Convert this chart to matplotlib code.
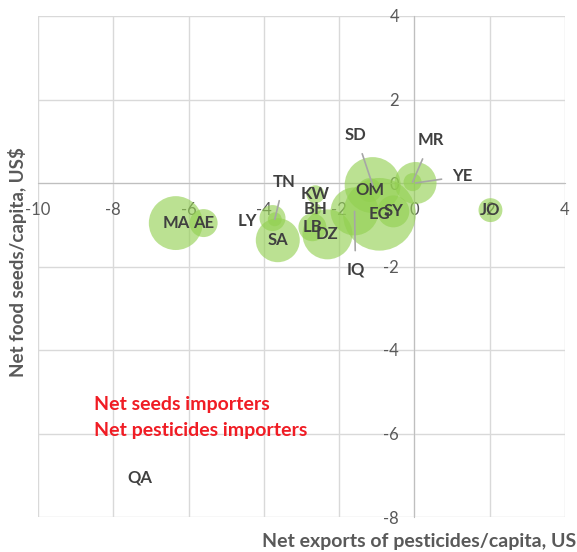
import numpy as np
import matplotlib
matplotlib.use("Agg")
import matplotlib.pyplot as plt

plt.rcParams['font.family'] = ['Lato', 'DejaVu Sans']
plt.rcParams['axes.unicode_minus'] = False

countries = ["MA", "AE", "LY", "TN", "SA", "KW", "BH", "LB", "DZ", "IQ",
             "OM", "SD", "EG", "SY", "MR", "YE", "JO", "QA"]
pest_exports = [-6.34, -5.60, -3.77, -3.71, -3.63, -2.63, -2.63, -2.71, -2.31, -1.59,
                -1.19, -1.11, -0.93, -0.56, -0.05, 0.03, 2.02, -7.29]
seed_exports = [-0.96, -0.96, -0.84, -0.87, -1.37, -0.27, -0.63, -1.06, -1.23, -0.68,
                -0.17, -0.05, -0.75, -0.68, 0.02, 0.00, -0.65, -7.05]
bubble_size = [33.0, 8.9, 7.7, 2.2, 22.0, 3.7, 1.6, 8.9, 28.4, 26.2,
               6.5, 35.6, 60.0, 11.6, 3.7, 20.0, 6.5, 0.02]

x_ticks = [-10, -8, -6, -4, -2, 0, 2, 4]
y_ticks = [-8, -6, -4, -2, 0, 2, 4]

# labels moved off their bubble (offset in points), leader line where far
label_offset = {"SD": (-12, 36), "MR": (13, 30), "YE": (34, 5),
                "TN": (6.5, 27), "IQ": (0.7, -42), "LY": (-18, -2)}
leader = ["SD", "MR", "YE", "TN", "IQ"]

fig = plt.figure(figsize=(5.77, 5.52), dpi=100)
ax = fig.add_axes([38/577, 35/552, 527/577, 501/552])

ax.scatter(pest_exports, seed_exports, s=np.array(bubble_size)*45.6,
           color='#92D050', alpha=0.62, edgecolors='none', zorder=3)

for c, x, y in zip(countries, pest_exports, seed_exports):
    dx, dy = label_offset.get(c, (0, 0))
    arrow = None
    if c in leader:
        arrow = dict(arrowstyle='-', color='#a6a6a6', lw=1.2, shrinkA=6, shrinkB=0)
    ax.annotate(c, (x, y), xytext=(dx, dy), textcoords='offset points',
                ha='center', va='center', fontsize=12, fontweight='bold',
                color='#404040', arrowprops=arrow, zorder=5)

ax.text(-8.51, -5.30, "Net seeds importers", color='#f01c24', fontsize=14,
        fontweight='bold', va='center', ha='left', zorder=6)
ax.text(-8.51, -5.93, "Net pesticides importers", color='#f01c24', fontsize=14,
        fontweight='bold', va='center', ha='left', zorder=6)

ax.set_xlim(-10, 4)
ax.set_ylim(-8, 4)
ax.set_xticks(x_ticks)
ax.set_yticks(y_ticks)
ax.set_xticklabels([str(t) for t in x_ticks])
ax.set_yticklabels([str(t) for t in y_ticks])
ax.grid(True, color='#d9d9d9', lw=1, zorder=0)
for g in ax.get_xgridlines() + ax.get_ygridlines():
    g.set_clip_on(False)
ax.set_axisbelow(True)

ax.spines['left'].set_position(('data', 0))
ax.spines['bottom'].set_position(('data', 0))
ax.spines['top'].set_visible(False)
ax.spines['right'].set_visible(False)
for s in ['left', 'bottom']:
    ax.spines[s].set_color('#bfbfbf')
    ax.spines[s].set_zorder(1)
ax.tick_params(axis='x', length=0, pad=14, labelsize=12, labelcolor='#595959')
ax.tick_params(axis='y', length=0, pad=11, labelsize=12, labelcolor='#595959')

fig.text(18/577, 1 - 262/552, "Net food seeds/capita, US$", rotation=90,
         ha='center', va='center', fontsize=13.5, fontweight='bold', color='#595959')
fig.text(262/577, 1 - 540/552, "Net exports of pesticides/capita, US$",
         ha='left', va='center', fontsize=14, fontweight='bold', color='#595959')

fig.savefig("out.png", dpi=100)
